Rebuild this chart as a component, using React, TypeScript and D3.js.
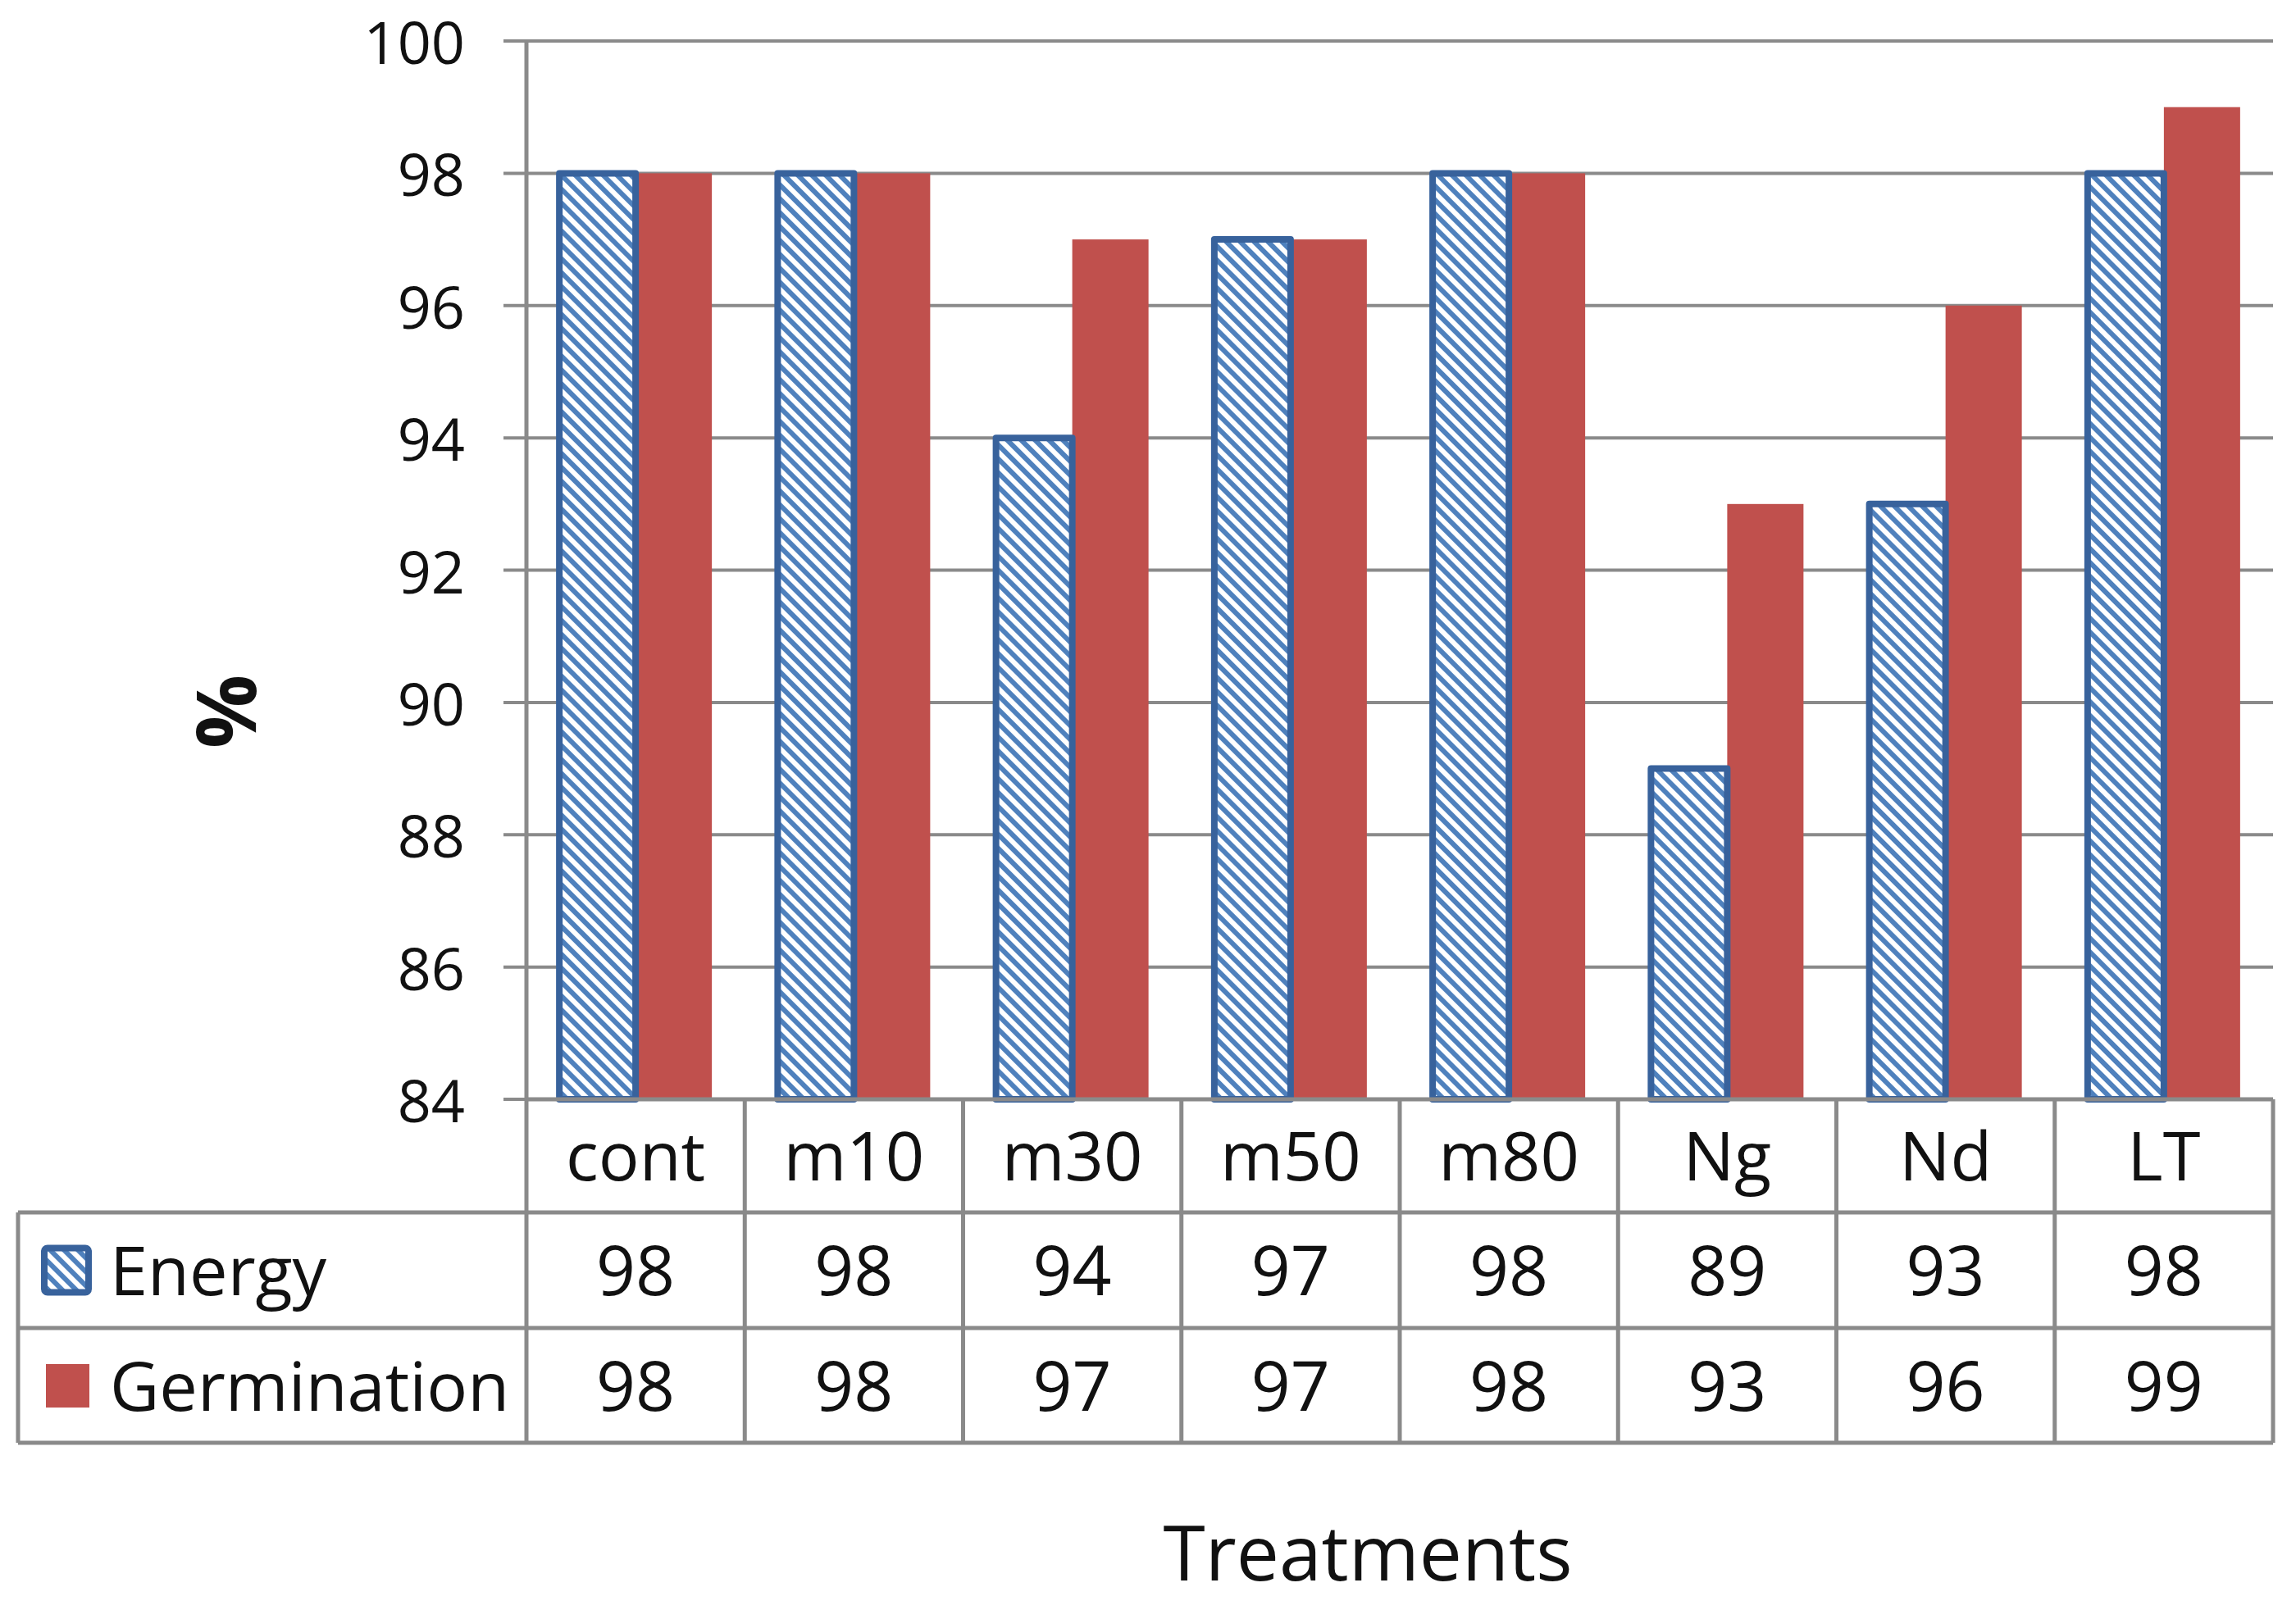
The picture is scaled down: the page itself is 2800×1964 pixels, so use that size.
import * as d3 from 'd3';

const categories = ['cont', 'm10', 'm30', 'm50', 'm80', 'Ng', 'Nd', 'LT'];
const energy = [98, 98, 94, 97, 98, 89, 93, 98];
const germination = [98, 98, 97, 97, 98, 93, 96, 99];
const yTicks = [84, 86, 88, 90, 92, 94, 96, 98, 100];
const seriesNames = ['Energy', 'Germination'];

const W = 2800;
const H = 1964;
const FONT = '"Open Sans", "Noto Sans", sans-serif';
const BLUE = '#4f81bd';
const BLUE_EDGE = '#38629c';
const RED = '#c0504d';
const GRID = '#8a8a8a';

export default function App() {
  const left = 642;
  const right = 2772;
  const x = d3.scaleBand<string>().domain(categories).range([left, right]).padding(0);
  const y = d3.scaleLinear().domain([84, 100]).range([1341, 50]);
  const groupW = 186;
  const inner = d3.scaleBand<string>().domain(seriesNames).range([0, groupW]).padding(0);
  const bw = x.bandwidth();
  const off = (bw - groupW) / 2;

  const rowY = [1341, 1479, 1620, 1760];
  const tableLeft = 22;
  const values = [energy, germination];
  const mid = (r: number) => (rowY[r] + rowY[r + 1]) / 2;

  return (
    <svg width={W} height={H} style={{ position: 'absolute', left: 0, top: 0, background: '#fff' }}>
      <defs>
        <pattern id="hatch" patternUnits="userSpaceOnUse" width="12" height="12" patternTransform="rotate(45)">
          <rect width="12" height="12" fill="#fff" />
          <rect width="12" height="6" fill={BLUE} />
        </pattern>
      </defs>

      {/* gridlines */}
      {yTicks.map((t) => (
        <line key={t} x1={left - 28} x2={right} y1={y(t)} y2={y(t)} stroke={GRID} strokeWidth={4} />
      ))}
      {yTicks.map((t) => (
        <text key={'l' + t} x={567} y={y(t)} textAnchor="end" dominantBaseline="central"
          fontFamily={FONT} fontSize={72} fill="#111">{t}</text>
      ))}

      {/* bars */}
      {categories.map((c, i) => {
        const gx = (x(c) ?? 0) + off;
        const e = energy[i];
        const g = germination[i];
        return (
          <g key={c}>
            <rect x={gx + inner('Germination')!} y={y(g)} width={inner.bandwidth()}
              height={y(84) - y(g)} fill={RED} />
            <rect x={gx + inner('Energy')!} y={y(e)} width={inner.bandwidth()}
              height={y(84) - y(e)} fill="url(#hatch)" stroke={BLUE_EDGE} strokeWidth={8} strokeLinejoin="round" />
          </g>
        );
      })}

      {/* axis line */}
      <line x1={left} x2={left} y1={y(100)} y2={rowY[3]} stroke={GRID} strokeWidth={5} />

      {/* data table */}
      <g stroke={GRID} strokeWidth={5} fill="none">
        <line x1={left} x2={right} y1={rowY[0]} y2={rowY[0]} />
        {rowY.slice(1).map((ry) => (
          <line key={ry} x1={tableLeft} x2={right} y1={ry} y2={ry} />
        ))}
        <line x1={tableLeft} x2={tableLeft} y1={rowY[1]} y2={rowY[3]} />
        {categories.map((c) => (
          <line key={c} x1={(x(c) ?? 0) + bw} x2={(x(c) ?? 0) + bw} y1={rowY[0]} y2={rowY[3]} />
        ))}
      </g>
      {categories.map((c) => (
        <text key={'c' + c} x={(x(c) ?? 0) + bw / 2} y={mid(0) - 3} textAnchor="middle"
          dominantBaseline="central" fontFamily={FONT} fontSize={83} fill="#111">{c}</text>
      ))}
      {values.map((vals, r) =>
        vals.map((v, i) => (
          <text key={r + '-' + i} x={(x(categories[i]) ?? 0) + bw / 2} y={mid(r + 1) - 2}
            textAnchor="middle" dominantBaseline="central" fontFamily={FONT} fontSize={84} fill="#111">{v}</text>
        ))
      )}

      {/* legend keys */}
      <rect x={54} y={mid(1) - 27} width={54} height={54} rx={4} fill="url(#hatch)" stroke={BLUE_EDGE} strokeWidth={8} />
      <rect x={56} y={mid(2) - 26} width={53} height={53} fill={RED} />
      {seriesNames.map((s, r) => (
        <text key={s} x={134} y={mid(r + 1) - 2} dominantBaseline="central"
          fontFamily={FONT} fontSize={83} fill="#111">{s}</text>
      ))}

      {/* axis titles */}
      <text transform={`translate(273,868) rotate(-90)`} textAnchor="middle" dominantBaseline="central"
        fontFamily={FONT} fontWeight="bold" fontSize={100} fill="#111">%</text>
      <text x={1668} y={1928} textAnchor="middle" fontFamily={FONT} fontSize={93} fill="#111">Treatments</text>
    </svg>
  );
}
